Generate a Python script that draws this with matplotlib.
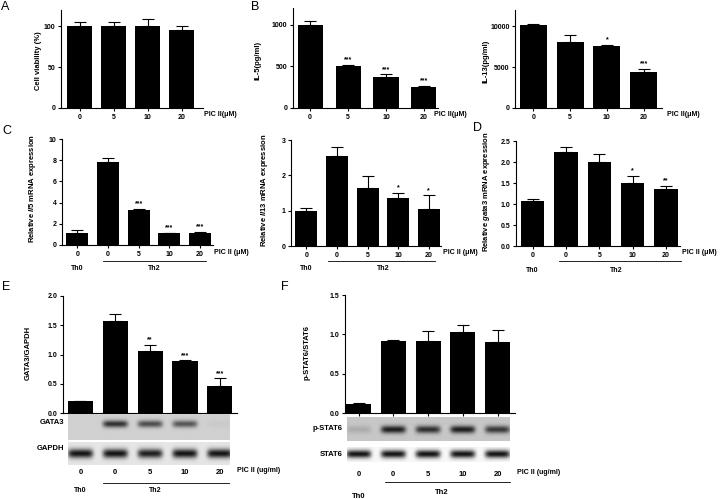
import numpy as np
import matplotlib.pyplot as plt
from matplotlib import transforms as mtransforms

plt.rcParams['font.family'] = ['Liberation Sans', 'DejaVu Sans']
plt.rcParams['font.weight'] = 'bold'
plt.rcParams['font.size'] = 5
plt.rcParams['mathtext.fontset'] = 'custom'
plt.rcParams['mathtext.it'] = 'Liberation Sans:italic:bold'
plt.rcParams['mathtext.rm'] = 'Liberation Sans:bold'

W, H = 727, 499

# ---- data ----
dose_labels = ['0', '5', '10', '20']
group_doses = ['0', '0', '5', '10', '20']

viability = [100, 100, 100, 95]
viability_err = [5, 5, 9, 5]

il5 = [990, 500, 375, 255]
il5_err = [50, 20, 30, 10]
il5_sig = ['', '***', '***', '***']

il13 = [10200, 8100, 7600, 4450]
il13_err = [100, 900, 150, 350]
il13_sig = ['', '', '*', '***']

il5_mrna = [1.1, 7.8, 3.3, 1.1, 1.15]
il5_mrna_err = [0.35, 0.4, 0.12, 0.05, 0.12]
il5_mrna_sig = ['', '', '***', '***', '***']

il13_mrna = [1.0, 2.55, 1.63, 1.37, 1.05]
il13_mrna_err = [0.07, 0.25, 0.35, 0.13, 0.38]
il13_mrna_sig = ['', '', '', '*', '*']

gata3_mrna = [1.08, 2.23, 2.0, 1.5, 1.36]
gata3_mrna_err = [0.05, 0.13, 0.2, 0.17, 0.08]
gata3_mrna_sig = ['', '', '', '*', '**']

gata3_ratio = [0.2, 1.58, 1.06, 0.89, 0.46]
gata3_ratio_err = [0.01, 0.11, 0.11, 0.01, 0.13]
gata3_ratio_sig = ['', '', '**', '***', '***']

pstat6_ratio = [0.12, 0.92, 0.91, 1.03, 0.9]
pstat6_ratio_err = [0.005, 0.01, 0.13, 0.09, 0.16]

# relative band intensities of the blots
gata3_band = [0.0, 0.85, 0.7, 0.65, 0.04]
gapdh_band = [1.0, 1.0, 0.95, 1.0, 1.0]
pstat6_band = [0.15, 0.95, 0.85, 0.95, 0.8]
stat6_band = [1.0, 1.0, 1.0, 1.0, 1.0]

fig = plt.figure(figsize=(W / 100, H / 100), dpi=100)


def px_axes(x0, x1, ybot, ytop):
    return fig.add_axes([x0 / W, 1 - ybot / H, (x1 - x0) / W, (ybot - ytop) / H])


def ftext(x, y, s, **kw):
    fig.text(x / W, 1 - y / H, s, **kw)


def bar_panel(box, vals, errs, ylim, yticks, ytl, xlim, width, sig=None,
              xtl=None, cap=4):
    ax = px_axes(*box)
    x = np.arange(len(vals))
    ax.bar(x, vals, width, color='black',
           yerr=[np.zeros(len(vals)), errs],
           error_kw=dict(ecolor='black', elinewidth=0.8, capsize=cap, capthick=0.8))
    ax.set_xlim(xlim)
    ax.set_ylim(ylim)
    ax.set_yticks(yticks)
    ax.set_yticklabels(ytl)
    ax.set_xticks(x)
    ax.set_xticklabels(xtl if xtl is not None else [''] * len(vals))
    ax.spines[['top', 'right']].set_visible(False)
    ax.spines[['left', 'bottom']].set_linewidth(0.8)
    ax.tick_params(length=2.5, width=0.8, pad=1.5, labelsize=5)
    if sig:
        for xi, v, e, s in zip(x, vals, errs, sig):
            if s:
                ax.annotate(s, (xi, v + e), xytext=(0, 1), textcoords='offset points',
                            ha='center', va='bottom', fontsize=5)
    return ax


def group_labels(ax, y_line, y_grp, x_line, th2_x):
    tr = mtransforms.blended_transform_factory(ax.transData, fig.transFigure)
    ax.plot(x_line, [1 - y_line / H] * 2, color='black', lw=0.6,
            transform=tr, clip_on=False)
    ax.text(0, 1 - y_grp / H, 'Th0', transform=tr, ha='center', va='center', fontsize=5)
    ax.text(th2_x, 1 - y_grp / H, 'Th2', transform=tr, ha='center', va='center', fontsize=5)


def px_to_data(ax, box, px):
    x0, x1 = box[0], box[1]
    xl = ax.get_xlim()
    return xl[0] + (px - x0) / (x1 - x0) * (xl[1] - xl[0])


def blot(ref_ax, ref_box, xpx, ypx, bands, bg, yc, thick, dark=0.08):
    ax = px_axes(xpx[0], xpx[1], ypx[1], ypx[0])
    xl = (px_to_data(ref_ax, ref_box, xpx[0]), px_to_data(ref_ax, ref_box, xpx[1]))
    xs = np.linspace(xl[0], xl[1], 400)
    ys = np.linspace(0, 1, 60)
    X, Y = np.meshgrid(xs, ys)
    img = np.full(X.shape, bg)
    for i, v in enumerate(bands):
        prof = v * np.exp(-((X - i) / 0.36) ** 6) * np.exp(-((Y - yc) / thick) ** 2)
        img = img - prof * (bg - dark)
    ax.imshow(img, cmap='gray', vmin=0, vmax=1, extent=(xl[0], xl[1], 0, 1),
              origin='lower', aspect='auto', interpolation='bilinear')
    ax.set_xlim(xl)
    ax.set_ylim(0, 1)
    ax.axis('off')
    return ax


# ---- A ----
boxA = (61, 203, 108, 10)
axA = bar_panel(boxA, viability, viability_err, (0, 120), [0, 50, 100],
                ['0', '50', '100'], (-0.55, 3.63), 0.74, xtl=dose_labels)
ftext(38, 61, 'Cell viability (%)', rotation=90, ha='center', va='center', fontsize=5.5)
ftext(204, 114, 'PIC II(\u03bcM)', ha='left', va='center', fontsize=5)

# ---- B ----
boxB1 = (293, 438, 108, 8)
bar_panel(boxB1, il5, il5_err, (0, 1200), [0, 500, 1000], ['0', '500', '1000'],
          (-0.45, 3.37), 0.66, sig=il5_sig, xtl=dose_labels)
ftext(258, 60, 'IL-5(pg/ml)', rotation=90, ha='center', va='center', fontsize=5.5)
ftext(434, 114, 'PIC II(\u03bcM)', ha='left', va='center', fontsize=5)

boxB2 = (515, 662, 108, 10)
bar_panel(boxB2, il13, il13_err, (0, 12000), [0, 5000, 10000],
          ['0', '5000', '10000'], (-0.5, 3.5), 0.73, sig=il13_sig, xtl=dose_labels)
ftext(486, 61, 'IL-13(pg/ml)', rotation=90, ha='center', va='center', fontsize=5.5)
ftext(667, 115, 'PIC II(\u03bcM)', ha='left', va='center', fontsize=5)

# ---- C ----
boxC1 = (62, 213, 245, 139)
axC1 = bar_panel(boxC1, il5_mrna, il5_mrna_err, (0, 10), [0, 2, 4, 6, 8, 10],
                 ['0', '2', '4', '6', '8', '10'], (-0.5, 4.42), 0.72,
                 sig=il5_mrna_sig, xtl=group_doses)
group_labels(axC1, 261, 269, [0.85, 4.2], 2.5)
ftext(33, 188, r'Relative $\mathit{Il5}$ mRNA expression', rotation=90,
      ha='center', va='center', fontsize=5.5)
ftext(214, 253, 'PIC II (\u03bcM)', ha='left', va='center', fontsize=5)

boxC2 = (291, 441, 246, 140)
axC2 = bar_panel(boxC2, il13_mrna, il13_mrna_err, (0, 3), [0, 1, 2, 3],
                 ['0', '1', '2', '3'], (-0.5, 4.4), 0.72,
                 sig=il13_mrna_sig, xtl=group_doses)
group_labels(axC2, 261, 269, [0.7, 4.2], 2.5)
ftext(265, 190, r'Relative $\mathit{Il13}$ mRNA expression', rotation=90,
      ha='center', va='center', fontsize=5.5)
ftext(443, 253, 'PIC II (\u03bcM)', ha='left', va='center', fontsize=5)

# ---- D ----
boxD = (516, 680, 246, 141)
axD = bar_panel(boxD, gata3_mrna, gata3_mrna_err, (0, 2.5),
                [0, 0.5, 1.0, 1.5, 2.0, 2.5],
                ['0.0', '0.5', '1.0', '1.5', '2.0', '2.5'], (-0.5, 4.42), 0.7,
                sig=gata3_mrna_sig, xtl=group_doses)
group_labels(axD, 261, 270, [0.8, 4.45], 2.5)
ftext(487, 192, r'Relative $\mathit{gata3}$ mRNA expression', rotation=90,
      ha='center', va='center', fontsize=5.5)
ftext(682, 253, 'PIC II (\u03bcM)', ha='left', va='center', fontsize=5)

# ---- E ----
boxE = (63, 237, 413, 296)
axE = bar_panel(boxE, gata3_ratio, gata3_ratio_err, (0, 2.0),
                [0, 0.5, 1.0, 1.5, 2.0], ['0.0', '0.5', '1.0', '1.5', '2.0'],
                (-0.5, 4.49), 0.72, sig=gata3_ratio_sig)
ftext(28, 353, 'GATA3/GAPDH', rotation=90, ha='center', va='center', fontsize=5.5)
blot(axE, boxE, (68, 230), (414, 440), gata3_band, 0.82, 0.62, 0.14)
blot(axE, boxE, (68, 230), (442, 465), gapdh_band, 0.9, 0.5, 0.2)
ftext(64, 422, 'GATA3', ha='right', va='center', fontsize=5.5)
ftext(64, 449, 'GAPDH', ha='right', va='center', fontsize=5.5)
trE = mtransforms.blended_transform_factory(axE.transData, fig.transFigure)
for i, s in enumerate(group_doses):
    axE.text(i, 1 - 473 / H, s, transform=trE, ha='center', va='center', fontsize=5.5)
group_labels(axE, 483, 491, [0.64, 4.25], 2.15)
ftext(237, 470, 'PIC II (ug/ml)', ha='left', va='center', fontsize=5)

# ---- F ----
boxF = (345, 515, 413, 295)
axF = bar_panel(boxF, pstat6_ratio, pstat6_ratio_err, (0, 1.5),
                [0, 0.5, 1.0, 1.5], ['0.0', '0.5', '1.0', '1.5'],
                (-0.39, 4.5), 0.72)
ftext(307, 353, 'p-STAT6/STAT6', rotation=90, ha='center', va='center', fontsize=5.5)
blot(axF, boxF, (347, 510), (417, 441), pstat6_band, 0.78, 0.48, 0.16)
blot(axF, boxF, (347, 510), (447, 462), stat6_band, 0.97, 0.5, 0.25)
ftext(343, 428, 'p-STAT6', ha='right', va='center', fontsize=5.5)
ftext(343, 455, 'STAT6', ha='right', va='center', fontsize=5.5)
trF = mtransforms.blended_transform_factory(axF.transData, fig.transFigure)
for i, s in enumerate(group_doses):
    axF.text(i, 1 - 475 / H, s, transform=trF, ha='center', va='center', fontsize=5.5)
axF.plot([0.76, 4.36], [1 - 482 / H] * 2, color='black', lw=0.6,
         transform=trF, clip_on=False)
axF.text(2.4, 1 - 492 / H, 'Th2', transform=trF, ha='center', va='center', fontsize=5.5)
axF.text(0, 1 - 497 / H, 'Th0', transform=trF, ha='center', va='center', fontsize=5.5)
ftext(517, 473, 'PIC II (ug/ml)', ha='left', va='center', fontsize=5)

# ---- panel letters ----
for letter, (x, y) in zip('ABCDEF', [(1, 7), (251, 7), (2, 131), (473, 128),
                                     (2, 287), (281, 287)]):
    ftext(x, y, letter, ha='left', va='center', fontsize=9, fontweight='normal')

fig.savefig('out.png', dpi=100)
